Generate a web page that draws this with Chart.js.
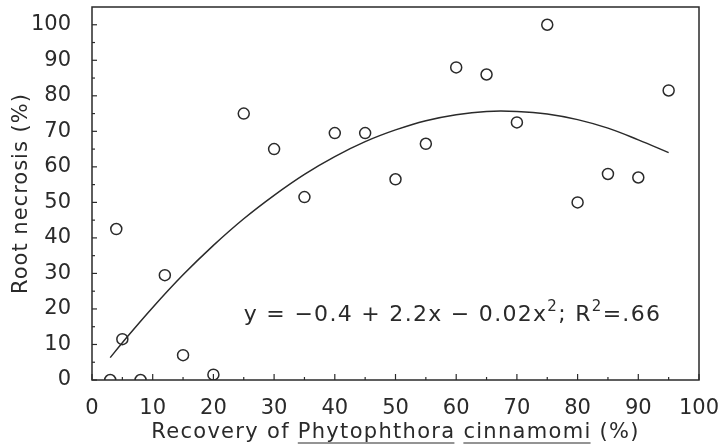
<!DOCTYPE html>
<html>
<head>
<meta charset="utf-8">
<script src="https://cdn.jsdelivr.net/npm/chart.js@4/dist/chart.umd.min.js"></script>
<style>
html, body { margin: 0; padding: 0; background: #fff; }
</style>
</head>
<body>
<canvas id="myChart" width="722" height="447"></canvas>
<script>
// observed points: recovery of P. cinnamomi (%) vs root necrosis (%)
const recovery = [3, 8, 4, 5, 12, 15, 20, 25, 30, 35, 40, 45, 50, 55, 60, 65, 70, 75, 80, 85, 90, 95];
const necrosis = [0, 0, 42.5, 11.5, 29.5, 7, 1.5, 75, 65, 51.5, 69.5, 69.5, 56.5, 66.5, 88, 86, 72.5, 100, 50, 58, 57, 81.5];

// fitted curve
const fitX = [3, 5, 10, 15, 20, 25, 30, 35, 40, 45, 50, 55, 60, 65, 70, 75, 80, 85, 90, 95];
const fitY = [6.3, 10.5, 20.4, 29.6, 37.9, 45.4, 52.0, 57.9, 62.9, 67.1, 70.4, 73.0, 74.7, 75.6, 75.6, 74.9, 73.3, 70.9, 67.6, 64.0];

const xTicks = [0, 10, 20, 30, 40, 50, 60, 70, 80, 90, 100];
const yTicks = [0, 10, 20, 30, 40, 50, 60, 70, 80, 90, 100];

const FONT = "'DejaVu Sans', sans-serif";
const INK = "#2a2a2a";

const points = recovery.map((x, i) => ({ x: x, y: necrosis[i] }));
const curve = fitX.map((x, i) => ({ x: x, y: fitY[i] }));

function line(ctx, x1, y1, x2, y2) {
    ctx.beginPath();
    ctx.moveTo(x1, y1);
    ctx.lineTo(x2, y2);
    ctx.stroke();
}

// box, inward ticks, axis titles, equation
const decorations = {
    id: "decorations",
    afterDraw(chart) {
        const ctx = chart.ctx;
        const a = chart.chartArea;
        const xs = chart.scales.x;
        const ys = chart.scales.y;
        ctx.save();
        ctx.strokeStyle = INK;
        ctx.lineWidth = 1.5;
        ctx.strokeRect(a.left, a.top, a.right - a.left, a.bottom - a.top);

        ctx.lineWidth = 1.2;
        xTicks.forEach((v, i) => {
            const px = xs.getPixelForValue(v);
            line(ctx, px, a.bottom, px, a.bottom - 6);
            if (i < xTicks.length - 1) {
                const mx = xs.getPixelForValue((v + xTicks[i + 1]) / 2);
                line(ctx, mx, a.bottom, mx, a.bottom - 3);
            }
        });
        yTicks.forEach((v, i) => {
            const py = ys.getPixelForValue(v);
            line(ctx, a.left, py, a.left + 5, py);
            if (i < yTicks.length - 1) {
                const my = ys.getPixelForValue((v + yTicks[i + 1]) / 2);
                line(ctx, a.left, my, a.left + 3, my);
            }
        });

        ctx.fillStyle = INK;
        ctx.letterSpacing = "1px";

        // y axis title
        ctx.save();
        ctx.font = "21px " + FONT;
        ctx.textAlign = "center";
        ctx.textBaseline = "middle";
        ctx.translate(22, (a.top + a.bottom) / 2);
        ctx.rotate(-Math.PI / 2);
        ctx.fillText("Root necrosis (%)", 0, 0);
        ctx.restore();

        // x axis title
        ctx.letterSpacing = "1.3px";
        ctx.font = "21px " + FONT;
        ctx.textBaseline = "alphabetic";
        ctx.textAlign = "left";
        const parts = [
            ["Recovery of ", false],
            ["Phytophthora", true],
            [" ", false],
            ["cinnamomi", true],
            [" (%)", false],
        ];
        const total = parts.reduce((s, p) => s + ctx.measureText(p[0]).width, 0);
        let tx = (a.left + a.right) / 2 - total / 2;
        const ty = 438;
        ctx.lineWidth = 1.2;
        parts.forEach((p) => {
            const w = ctx.measureText(p[0]).width;
            ctx.fillText(p[0], tx, ty);
            if (p[1]) line(ctx, tx, ty + 5, tx + w - 1, ty + 5);
            tx += w;
        });

        // regression equation
        ctx.letterSpacing = "1.3px";
        const eq = [
            ["y = \u22120.4 + 2.2x \u2212 0.02x", false],
            ["2", true],
            ["; R", false],
            ["2", true],
            ["=.66", false],
        ];
        let ex = xs.getPixelForValue(25);
        const ey = ys.getPixelForValue(19) + 8;
        eq.forEach((p) => {
            ctx.font = (p[1] ? "15px " : "22px ") + FONT;
            ctx.fillText(p[0], ex, p[1] ? ey - 10 : ey);
            ex += ctx.measureText(p[0]).width;
        });
        ctx.restore();
    },
};

function noOverflow(s) {
    s.paddingTop = 0;
    s.paddingBottom = 0;
    s.paddingLeft = 0;
    s.paddingRight = 0;
}

new Chart(document.getElementById("myChart"), {
    type: "scatter",
    data: {
        datasets: [
            {
                label: "Fit",
                type: "line",
                data: curve,
                borderColor: INK,
                borderWidth: 1.5,
                pointRadius: 0,
                tension: 0.4,
                fill: false,
            },
            {
                label: "Observed",
                data: points,
                pointRadius: 5.5,
                pointBorderWidth: 1.5,
                borderColor: INK,
                backgroundColor: "rgba(0,0,0,0)",
            },
        ],
    },
    options: {
        responsive: false,
        animation: false,
        layout: { autoPadding: false, padding: { top: 7, right: 23, left: 0, bottom: 0 } },
        plugins: {
            legend: { display: false },
            tooltip: { enabled: false },
        },
        scales: {
            x: {
                type: "linear",
                min: 0,
                max: 100,
                grid: { display: false },
                border: { display: false },
                afterBuildTicks: (s) => { s.ticks = xTicks.map((v) => ({ value: v })); },
                afterFit: (s) => { s.height = 67; noOverflow(s); },
                ticks: {
                    color: INK,
                    padding: 8,
                    maxRotation: 0,
                    autoSkip: false,
                    font: { family: FONT, size: 21 },
                },
            },
            y: {
                min: 0,
                max: 105,
                grid: { display: false },
                border: { display: false },
                afterBuildTicks: (s) => { s.ticks = yTicks.map((v) => ({ value: v })); },
                afterFit: (s) => { s.width = 92; noOverflow(s); },
                ticks: {
                    color: INK,
                    padding: 13,
                    font: { family: FONT, size: 21 },
                },
            },
        },
    },
    plugins: [decorations],
});
</script>
</body>
</html>
